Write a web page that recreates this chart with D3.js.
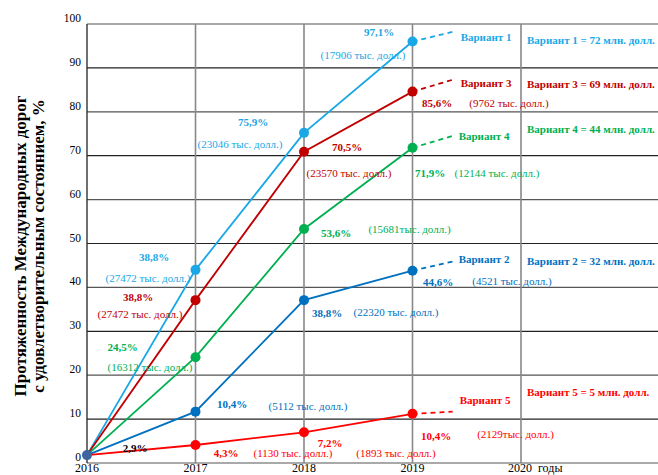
<!DOCTYPE html>
<html>
<head>
<meta charset="utf-8">
<script src="https://cdn.jsdelivr.net/npm/d3@7"></script>
<style>
  body { margin: 0; background: #fff; }
  svg text { font-family: "Liberation Serif", "Times New Roman", serif; }
</style>
</head>
<body>
<svg id="chart" width="658" height="475"></svg>
<script>
// data
const years = [2016, 2017, 2018, 2019];
const yTicks = [0, 10, 20, 30, 40, 50, 60, 70, 80, 90, 100];
const xTicks = [2016, 2017, 2018, 2019, 2020];
const extYear = 2019.37;

const names = ["Вариант 1", "Вариант 3", "Вариант 4", "Вариант 2", "Вариант 5"];
const budgets = ["Вариант 1 = 72 млн. долл.", "Вариант 3 = 69 млн. долл.", "Вариант 4 = 44 млн. долл.",
                 "Вариант 2 = 32 млн. долл.", "Вариант 5 = 5 млн. долл."];
const colors = ["#1aa7e6", "#c00000", "#00b050", "#0070c0", "#ff0000"];

const v1 = [1.8, 44.0, 75.2, 96.0];
const v3 = [1.8, 37.1, 70.9, 84.6];
const v4 = [1.8, 24.1, 53.3, 71.8];
const v2 = [1.8, 11.7, 37.1, 43.8];
const v5 = [1.8, 4.1, 7.0, 11.2];
const extValues = [98.2, 87.3, 74.5, 45.9, 11.7];
const series = [v1, v3, v4, v2, v5];

// point labels: [series, year index, text, bold]
const pointLabels = [
  [0, 1, "38,8%", true], [0, 1, "(27472 тыс. долл.)", false],
  [0, 2, "75,9%", true], [0, 2, "(23046 тыс. долл.)", false],
  [0, 3, "97,1%", true], [0, 3, "(17906 тыс. долл.)", false],
  [1, 1, "38,8%", true], [1, 1, "(27472 тыс. долл.)", false],
  [1, 2, "70,5%", true], [1, 2, "(23570 тыс. долл.)", false],
  [1, 3, "85,6%", true], [1, 3, "(9762 тыс. долл.)", false],
  [2, 1, "24,5%", true], [2, 1, "(16312 тыс. долл.)", false],
  [2, 2, "53,6%", true], [2, 2, "(15681тыс. долл.)", false],
  [2, 3, "71,9%", true], [2, 3, "(12144 тыс. долл.)", false],
  [3, 1, "10,4%", true], [3, 1, "(5112 тыс. долл.)", false],
  [3, 2, "38,8%", true], [3, 2, "(22320 тыс. долл.)", false],
  [3, 3, "44,6%", true], [3, 3, "(4521 тыс. долл.)", false],
  [4, 0, "2,9%", true], [4, 1, "4,3%", true], [4, 2, "(1130 тыс. долл.)", false],
  [4, 2, "7,2%", true], [4, 3, "(1893 тыс. долл.)", false],
  [4, 3, "10,4%", true], [4, 3, "(2129тыс. долл.)", false]
];
// pixel offsets of each label from its point (layout only)
const labelOffsets = [
  [-41.5, -9], [-47.5, 12], [-51, -7], [-64, 15], [-33.5, -5.6], [-49.5, 17.5],
  [-57.5, 1], [-55.5, 18], [43, -0.7], [45, 25], [24.5, 15.4], [96.5, 15.4],
  [-73, -6], [-45.5, 14], [32, 8], [105.5, 4], [17.5, 29], [84.5, 29],
  [36.5, -3.6], [112.5, -1.6], [23, 17], [92, 16], [25.5, 15.3], [99.5, 14.3],
  [48, -3], [30.5, 12], [-11, 25], [26, 14.7], [-16.5, 43], [23.5, 26], [103, 24]
];
const nameOffsets = [[8, 9], [8, 7], [6, 4], [6, 1.5], [7, -7.6]];
const budgetOffsets = [12, 8, -3.4, 3.5, -15.6];

document.addEventListener('DOMContentLoaded', function () {
  const svg = d3.select('#chart');

  const xScale = d3.scaleLinear().domain([2016, 2020]).range([87, 521]);
  const yScale = d3.scaleLinear().domain([0, 100]).range([463, 24]);
  const right = 658;

  // grid
  svg.selectAll('.hgrid')
    .data(yTicks)
    .enter()
    .append('line')
    .attr('x1', xScale(2016))
    .attr('x2', right)
    .attr('y1', d => yScale(d))
    .attr('y2', d => yScale(d))
    .style('stroke', d => d % 20 === 0 ? '#555' : '#222')
    .style('stroke-width', 1.2);

  svg.selectAll('.vgrid')
    .data(xTicks)
    .enter()
    .append('line')
    .attr('x1', d => xScale(d))
    .attr('x2', d => xScale(d))
    .attr('y1', yScale(100))
    .attr('y2', yScale(0))
    .style('stroke', d => d === 2016 ? '#222' : '#888')
    .style('stroke-width', d => d === 2016 ? 1.3 : 1.6);

  // tick labels
  svg.selectAll('.ytick')
    .data(yTicks)
    .enter()
    .append('text')
    .attr('x', xScale(2016) - 6)
    .attr('y', d => yScale(d) - 2)
    .attr('text-anchor', 'end')
    .style('font-size', '11.5px')
    .text(d => d);

  svg.selectAll('.xtick')
    .data(xTicks)
    .enter()
    .append('text')
    .attr('x', d => d === 2020 ? xScale(d) - 13 : xScale(d))
    .attr('y', 472)
    .attr('text-anchor', d => d === 2020 ? 'start' : 'middle')
    .style('font-size', '12px')
    .style('white-space', 'pre')
    .text(d => d === 2020 ? '2020  годы' : d);

  // axis title
  const title = svg.append('text')
    .attr('transform', 'translate(26, 246) rotate(-90)')
    .attr('text-anchor', 'middle')
    .style('font-size', '17px')
    .style('font-weight', 'bold');
  title.append('tspan').attr('x', 0).attr('dy', 0).text('Протяженность Международных дорог');
  title.append('tspan').attr('x', 0).attr('dy', 18).text('с удовлетворительным состоянием, %');

  const line = d3.line().x(d => xScale(d[0])).y(d => yScale(d[1]));

  series.forEach((vals, i) => {
    const pts = years.map((y, j) => [y, vals[j]]);
    svg.append('path')
      .attr('d', line(pts))
      .style('fill', 'none')
      .style('stroke', colors[i])
      .style('stroke-width', 1.8);

    svg.append('path')
      .attr('d', line([[years[3], vals[3]], [extYear, extValues[i]]]))
      .style('fill', 'none')
      .style('stroke', colors[i])
      .style('stroke-width', 1.8)
      .style('stroke-dasharray', '5,4');

    svg.selectAll('.dot' + i)
      .data(pts.slice(1))
      .enter()
      .append('circle')
      .attr('cx', d => xScale(d[0]))
      .attr('cy', d => yScale(d[1]))
      .attr('r', 5)
      .style('fill', colors[i]);

    const ex = xScale(extYear), ey = yScale(extValues[i]);
    svg.append('text')
      .attr('x', ex + nameOffsets[i][0])
      .attr('y', ey + nameOffsets[i][1])
      .style('font-size', '11px')
      .style('font-weight', 'bold')
      .style('fill', colors[i])
      .text(names[i]);

    svg.append('text')
      .attr('x', xScale(2020) + 6)
      .attr('y', ey + budgetOffsets[i])
      .style('font-size', '11px')
      .style('font-weight', 'bold')
      .style('fill', colors[i])
      .text(budgets[i]);
  });

  // common starting point
  svg.append('circle')
    .attr('cx', xScale(years[0]))
    .attr('cy', yScale(v1[0]))
    .attr('r', 5)
    .style('fill', '#3f64a0');

  svg.selectAll('.plabel')
    .data(pointLabels)
    .enter()
    .append('text')
    .attr('x', (d, k) => xScale(years[d[1]]) + labelOffsets[k][0])
    .attr('y', (d, k) => yScale(series[d[0]][d[1]]) + labelOffsets[k][1])
    .attr('text-anchor', 'middle')
    .style('font-size', '11px')
    .style('font-weight', d => d[3] ? 'bold' : 'normal')
    .style('fill', d => (d[0] === 4 && d[1] === 0) ? '#000' : colors[d[0]])
    .text(d => d[2]);
});
</script>
</body>
</html>
